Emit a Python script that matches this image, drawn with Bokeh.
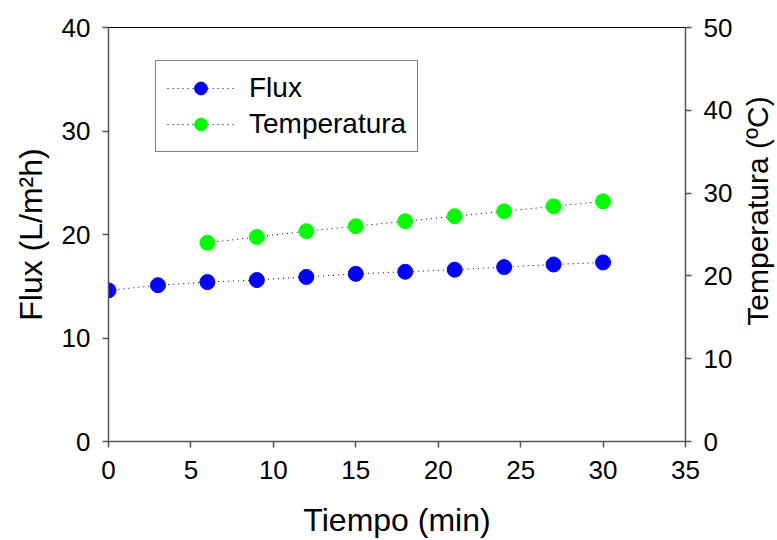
import math
from bokeh.plotting import figure
from bokeh.models import Range1d, LinearAxis, FixedTicker, Legend, LegendItem, Div
from bokeh.layouts import row
from bokeh.embed import file_html
from bokeh.resources import INLINE

# Data
tiempo_flux = [0, 3, 6, 9, 12, 15, 18, 21, 24, 27, 30]
flux = [14.6, 15.1, 15.4, 15.6, 15.9, 16.2, 16.4, 16.6, 16.85, 17.1, 17.3]
tiempo_temp = [6, 9, 12, 15, 18, 21, 24, 27, 30]
temperatura = [24.0, 24.7, 25.4, 26.0, 26.6, 27.2, 27.8, 28.4, 29.0]

x_ticks = [0, 5, 10, 15, 20, 25, 30, 35]
flux_ticks = [0, 10, 20, 30, 40]
temp_ticks = [0, 10, 20, 30, 40, 50]
temp_axis_title = "Temperatura (ºC)"

FONT = "Liberation Sans"
AXIS_COLOR = "#555555"

p = figure(width=745, height=540, output_backend="svg", toolbar_location=None,
           x_range=Range1d(0, 35), y_range=Range1d(0, 40),
           min_border_left=108, min_border_right=60, min_border_top=27, min_border_bottom=99)
p.extra_y_ranges = {"temp": Range1d(0, 50)}
p.grid.visible = False
p.outline_line_color = "black"
p.outline_line_width = 1
p.background_fill_color = "white"
p.border_fill_color = "white"

def style_axis(ax, ticks, label, standoff_label, label_standoff):
    ax.ticker = FixedTicker(ticks=ticks)
    ax.axis_label = label
    ax.axis_label_text_font = FONT
    ax.axis_label_text_font_size = "32px"
    ax.axis_label_text_font_style = "normal"
    ax.axis_label_text_color = "black"
    ax.axis_label_standoff = standoff_label
    ax.major_label_text_font = FONT
    ax.major_label_text_font_size = "26px"
    ax.major_label_text_color = "black"
    ax.major_label_standoff = label_standoff
    ax.axis_line_color = AXIS_COLOR
    ax.axis_line_width = 1.5
    ax.major_tick_line_color = AXIS_COLOR
    ax.major_tick_line_width = 1.5
    ax.major_tick_in = 0
    ax.major_tick_out = 6
    ax.minor_tick_line_color = None

style_axis(p.xaxis[0], x_ticks, "Tiempo (min)", 20, 13)
style_axis(p.yaxis[0], flux_ticks, "Flux (L/m²h)", 10, 12)

right = LinearAxis(y_range_name="temp")
style_axis(right, temp_ticks, None, 0, 12)
p.add_layout(right, "right")

l1 = p.line(tiempo_flux, flux, line_color="black", line_dash="1 4", line_width=1)
s1 = p.scatter(tiempo_flux, flux, size=15, fill_color="#0000ff", line_color="#0000ff")
l2 = p.line(tiempo_temp, temperatura, line_color="black", line_dash="1 4", line_width=1,
            y_range_name="temp")
s2 = p.scatter(tiempo_temp, temperatura, size=15, fill_color="#00ff00", line_color="#00ff00",
               y_range_name="temp")

legend = Legend(items=[LegendItem(label="Flux", renderers=[l1, s1]),
                       LegendItem(label="Temperatura", renderers=[l2, s2])],
                location=(47, 289))
legend.label_text_font = FONT
legend.label_text_font_size = "28px"
legend.label_text_color = "black"
legend.glyph_width = 67
legend.glyph_height = 32
legend.label_height = 32
legend.spacing = 4
legend.padding = 11
legend.label_standoff = 15
legend.border_line_color = "black"
legend.border_line_width = 1
legend.background_fill_alpha = 1
legend.margin = 0
p.add_layout(legend, "center")

# rotated right-axis title (reads bottom-to-top, like the reference)
title_html = (
    '<div style="position:relative;left:-122px;top:191px;width:260px;height:30px;'
    'line-height:30px;transform:rotate(-90deg);transform-origin:50% 50%;'
    "text-align:center;white-space:nowrap;font-family:'Liberation Sans';"
    'font-size:30px;color:black;">' + temp_axis_title + '</div>'
)
side = Div(text=title_html, width=32, height=540, styles={"background-color": "white"})

layout = row(p, side, spacing=0)

open("out.html", "w").write(file_html(layout, INLINE))
